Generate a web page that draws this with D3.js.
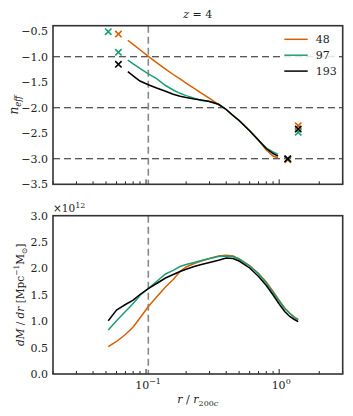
<!DOCTYPE html>
<html><head><meta charset="utf-8">
<script src="https://cdn.jsdelivr.net/npm/d3@7"></script>
<style>body{margin:0;background:#fff}</style>
</head><body><div id="chart"></div>
<script>
// ---- data ----
const seriesNames = ["48", "97", "193"];
const seriesColors = ["#d95f02", "#1b9e77", "#000000"];
const rTop = [0.073, 0.08, 0.09, 0.104, 0.12, 0.14, 0.16, 0.18, 0.2, 0.23, 0.26, 0.3, 0.35, 0.4, 0.45, 0.5, 0.6, 0.7, 0.8, 0.9, 0.98];
const neff48  = [-0.675, -0.757, -0.861, -0.990, -1.114, -1.243, -1.347, -1.435, -1.514, -1.618, -1.710, -1.816, -1.931, -2.033, -2.151, -2.249, -2.451, -2.635, -2.827, -2.945, -2.984];
const neff97  = [-1.067, -1.139, -1.229, -1.333, -1.429, -1.563, -1.651, -1.716, -1.761, -1.814, -1.857, -1.876, -1.931, -2.033, -2.151, -2.249, -2.451, -2.635, -2.790, -2.867, -2.912];
const neff193 = [-1.292, -1.373, -1.475, -1.549, -1.612, -1.676, -1.733, -1.773, -1.800, -1.827, -1.847, -1.876, -1.931, -2.033, -2.151, -2.249, -2.451, -2.635, -2.798, -2.896, -2.948];
// cross markers [r, n_eff]
const marks48  = [[0.062, -0.553], [1.16, -3.02], [1.39, -2.35]];
const marks97  = [[0.052, -0.508], [0.062, -0.912], [1.16, -3.00], [1.39, -2.48]];
const marks193 = [[0.062, -1.147], [1.16, -3.00], [1.39, -2.416]];
const rBot = [0.052, 0.06, 0.07, 0.08, 0.09, 0.104, 0.12, 0.14, 0.16, 0.18, 0.2, 0.23, 0.26, 0.3, 0.35, 0.4, 0.45, 0.5, 0.6, 0.7, 0.8, 0.9, 1.0, 1.1, 1.2, 1.3, 1.39];
const dmdr48  = [0.517, 0.616, 0.749, 0.891, 1.061, 1.279, 1.459, 1.649, 1.791, 1.942, 2.028, 2.094, 2.141, 2.189, 2.236, 2.249, 2.236, 2.179, 2.056, 1.904, 1.743, 1.563, 1.393, 1.251, 1.156, 1.080, 1.033];
const dmdr97  = [0.834, 1.010, 1.184, 1.336, 1.488, 1.620, 1.753, 1.895, 1.965, 2.037, 2.075, 2.113, 2.151, 2.189, 2.227, 2.236, 2.227, 2.179, 2.047, 1.895, 1.724, 1.544, 1.383, 1.241, 1.146, 1.071, 1.023];
const dmdr193 = [1.010, 1.213, 1.317, 1.399, 1.507, 1.616, 1.715, 1.819, 1.886, 1.942, 1.984, 2.037, 2.075, 2.113, 2.155, 2.198, 2.189, 2.141, 2.009, 1.848, 1.677, 1.497, 1.327, 1.184, 1.090, 1.033, 0.991];
const topYTicks = [-0.5, -1.0, -1.5, -2.0, -2.5, -3.0, -3.5];
const botYTicks = [0.0, 0.5, 1.0, 1.5, 2.0, 2.5, 3.0];
const hLines = [-1, -2, -3];
const rVLine = 0.104;

// ---- layout ----
const W = 353, H = 416;
const L = 53, R = 342.7;
const topP = {t: 25.7, b: 184.3};
const botP = {t: 215.7, b: 374};
const FF = "DejaVu Serif";

const svg = d3.select("#chart").append("svg").attr("width", W).attr("height", H);
const x = d3.scaleLog().domain([0.02, 3.0]).range([L, R]);
const yT = d3.scaleLinear().domain([-3.5, -0.39]).range([topP.b, topP.t]);
const yB = d3.scaleLinear().domain([0, 3]).range([botP.b, botP.t]);

const topSeries = [neff48, neff97, neff193];
const topMarks = [marks48, marks97, marks193];
const botSeries = [dmdr48, dmdr97, dmdr193];

function txt(sel) { return sel.append("text").attr("font-family", FF).attr("fill", "#222"); }

function minorTicks() {
  const t = [];
  for (let e = -2; e <= 0; e++) for (let m = 1; m <= 9; m++) {
    const v = m * Math.pow(10, e);
    if (v >= 0.02 && v <= 3.0001) t.push(v);
  }
  return t;
}

function panel(y, p, yTicks) {
  const g = svg.append("g");
  yTicks.forEach(d => {
    txt(g).attr("x", L - 5).attr("y", y(d) + 4)
      .attr("text-anchor", "end").attr("font-size", 11)
      .text(d3.format(".1f")(d).replace("-", "\u2212"));
  });
  const mt = minorTicks();
  g.selectAll("line.xt").data(mt).enter().append("line")
    .attr("x1", d => x(d)).attr("x2", d => x(d))
    .attr("y1", p.b).attr("y2", d => p.b - ((Math.abs(Math.log10(d) - Math.round(Math.log10(d))) < 1e-9) ? 5 : 3))
    .attr("stroke", "#222").attr("stroke-width", 1);
  return g;
}

function frame(p) {
  svg.append("rect").attr("x", L).attr("y", p.t).attr("width", R - L).attr("height", p.b - p.t)
    .attr("fill", "none").attr("stroke", "#333").attr("stroke-width", 1.6);
}

// ---- top panel ----
const gT = panel(yT, topP, topYTicks);
gT.selectAll("line.h").data(hLines).enter().append("line")
  .attr("x1", L).attr("x2", R).attr("y1", d => yT(d)).attr("y2", d => yT(d))
  .attr("stroke", "#222").attr("stroke-width", 1.1).attr("stroke-dasharray", "7,4");
gT.append("line").attr("x1", x(rVLine)).attr("x2", x(rVLine)).attr("y1", topP.t).attr("y2", topP.b)
  .attr("stroke", "#888").attr("stroke-width", 1.6).attr("stroke-dasharray", "7,4");
const lineT = d3.line().x((d, i) => x(rTop[i])).y(d => yT(d));
topSeries.forEach((s, k) => {
  gT.append("path").attr("d", lineT(s)).attr("fill", "none")
    .attr("stroke", seriesColors[k]).attr("stroke-width", 1.5);
});
topMarks.forEach((ms, k) => {
  ms.forEach(m => {
    const cx = x(m[0]), cy = yT(m[1]), s = 3.2;
    gT.append("path").attr("d", `M${cx - s},${cy - s}L${cx + s},${cy + s}M${cx - s},${cy + s}L${cx + s},${cy - s}`)
      .attr("stroke", seriesColors[k]).attr("stroke-width", 1.6).attr("fill", "none");
  });
});
frame(topP);

// legend (white background hides grid lines)
svg.append("rect").attr("x", 280).attr("y", 30).attr("width", 58).attr("height", 48)
  .attr("fill", "#fff").attr("fill-opacity", 0.85);
seriesNames.forEach((n, k) => {
  const ly = 39.3 + k * 15.9;
  svg.append("line").attr("x1", 284.3).attr("x2", 307.7).attr("y1", ly).attr("y2", ly)
    .attr("stroke", seriesColors[k]).attr("stroke-width", 1.5);
  txt(svg).attr("x", 315.7).attr("y", ly + 4).attr("font-size", 11).text(n);
});

// title
txt(svg).attr("x", (L + R) / 2).attr("y", 18).attr("text-anchor", "middle")
  .attr("font-size", 11)
  .html('<tspan font-style="italic">z</tspan> = 4');

// y label top
txt(svg).attr("transform", `translate(18,${(topP.t + topP.b) / 2}) rotate(-90)`)
  .attr("text-anchor", "middle").attr("font-size", 12)
  .html('<tspan font-style="italic">n</tspan><tspan font-style="italic" font-size="8.5" dy="3">eff</tspan>');

// ---- bottom panel ----
const gB = panel(yB, botP, botYTicks);
gB.append("line").attr("x1", x(rVLine)).attr("x2", x(rVLine)).attr("y1", botP.t).attr("y2", botP.b)
  .attr("stroke", "#888").attr("stroke-width", 1.6).attr("stroke-dasharray", "7,4");
const lineB = d3.line().x((d, i) => x(rBot[i])).y(d => yB(d));
botSeries.forEach((s, k) => {
  gB.append("path").attr("d", lineB(s)).attr("fill", "none")
    .attr("stroke", seriesColors[k]).attr("stroke-width", 1.5);
});
frame(botP);

// x tick labels
[[0.1, "\u22121"], [1, "0"]].forEach(([v, e]) => {
  txt(svg).attr("x", x(v) + 2).attr("y", 389).attr("text-anchor", "middle")
    .attr("font-size", 11)
    .html(`10<tspan font-size="8" dy="-5">${e}</tspan>`);
});

// multiplier
txt(svg).attr("x", 53).attr("y", 212).attr("font-size", 10.5)
  .html('\u00d710<tspan font-size="8" dy="-4">12</tspan>');

// x label
txt(svg).attr("x", (L + R) / 2).attr("y", 403).attr("text-anchor", "middle")
  .attr("font-size", 11)
  .html('<tspan font-style="italic">r</tspan> / <tspan font-style="italic">r</tspan><tspan font-size="8" dy="3">200<tspan font-style="italic">c</tspan></tspan>');

// y label bottom
txt(svg).attr("transform", `translate(24,${(botP.t + botP.b) / 2}) rotate(-90)`)
  .attr("text-anchor", "middle").attr("font-size", 10.5)
  .html('<tspan font-style="italic">dM</tspan> / <tspan font-style="italic">dr</tspan> [Mpc<tspan font-size="7.5" dy="-5">\u22121</tspan><tspan dy="5">M</tspan><tspan font-size="7.5" dy="3">\u2299</tspan><tspan dy="-3">]</tspan>');
</script></body></html>
